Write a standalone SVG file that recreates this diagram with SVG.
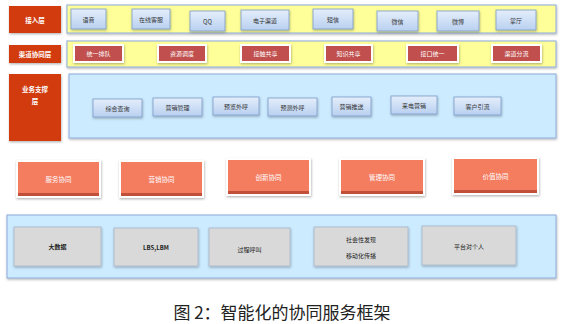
<svg xmlns="http://www.w3.org/2000/svg" width="567" height="324" viewBox="0 0 567 324">
<defs>
<linearGradient id="gBlue" x1="0" y1="0" x2="0" y2="1"><stop offset="0" stop-color="#E4EEFB"/><stop offset="1" stop-color="#B9D0F0"/></linearGradient>
<filter id="sh" x="-20%" y="-20%" width="140%" height="150%"><feDropShadow dx="0.5" dy="1.2" stdDeviation="1" flood-color="#000" flood-opacity="0.3"/></filter>
</defs>
<style>
text{font-family:"Noto Sans CJK SC","Liberation Sans",sans-serif;text-anchor:middle;dominant-baseline:central}
.lab{fill:#D13A0A}
.labt{fill:#fff;font-size:6.5px;font-weight:bold}
.yel{fill:#FFFF99;stroke:#8EAADB;stroke-width:1}
.pan{fill:#CCEBFF;stroke:#8EAADB;stroke-width:1}
.b1{fill:url(#gBlue);stroke:#7C9CC9;stroke-width:0.8}
.t1{fill:#333;font-size:6px}
.r2{fill:#C0504D;stroke:#fff;stroke-width:2}
.t2{fill:#fff;font-size:6px}
.o4{fill:#F47C5F;stroke:#fff;stroke-width:2}
.o4b{fill:#C0503A}
.t4{fill:#fff;font-size:6.5px}
.g5{fill:#D9D9D9;stroke:#A6B6C9;stroke-width:0.8}
.t5{fill:#222;font-size:6px}
</style>
<g id="row1">
<rect class="lab" x="9" y="6" width="52" height="27" filter="url(#sh)"/><text class="labt" x="35" y="19.5">接入层</text>
<rect class="yel" x="67" y="5" width="489" height="28" filter="url(#sh)"/>
<g id="n-yuyin"><rect class="b1" x="71" y="9" width="35" height="20" filter="url(#sh)"/><text class="t1" x="88.5" y="19">语音</text></g>
<g id="n-zaixian"><rect class="b1" x="132" y="9" width="38" height="20" filter="url(#sh)"/><text class="t1" x="151" y="19">在线客服</text></g>
<g id="n-qq"><rect class="b1" x="190" y="11" width="35" height="20" filter="url(#sh)"/><text class="t1" x="207.5" y="21">QQ</text></g>
<g id="n-dianzi"><rect class="b1" x="241" y="10" width="48" height="20" filter="url(#sh)"/><text class="t1" x="265" y="20">电子渠道</text></g>
<g id="n-duanxin"><rect class="b1" x="313" y="9" width="40" height="20" filter="url(#sh)"/><text class="t1" x="333" y="19">短信</text></g>
<g id="n-weixin"><rect class="b1" x="377" y="11" width="41" height="20" filter="url(#sh)"/><text class="t1" x="397.5" y="21">微信</text></g>
<g id="n-weibo"><rect class="b1" x="437" y="11" width="42" height="20" filter="url(#sh)"/><text class="t1" x="458" y="21">微博</text></g>
<g id="n-zhangting"><rect class="b1" x="496" y="10" width="40" height="20" filter="url(#sh)"/><text class="t1" x="516" y="20">掌厅</text></g>
</g>
<g id="row2">
<rect class="lab" x="9" y="45" width="52" height="18" filter="url(#sh)"/><text class="labt" x="35" y="54">渠道协同层</text>
<rect class="yel" x="67" y="41" width="489" height="26" filter="url(#sh)"/>
<g id="n-tongyi"><rect class="r2" x="74" y="45" width="49" height="17" filter="url(#sh)"/><text class="t2" x="98.5" y="53.5">统一排队</text></g>
<g id="n-ziyuan"><rect class="r2" x="158" y="45" width="48" height="17" filter="url(#sh)"/><text class="t2" x="182" y="53.5">资源调度</text></g>
<g id="n-jiechu"><rect class="r2" x="241" y="45" width="49" height="17" filter="url(#sh)"/><text class="t2" x="265.5" y="53.5">接触共享</text></g>
<g id="n-zhishi"><rect class="r2" x="325" y="45" width="47" height="17" filter="url(#sh)"/><text class="t2" x="348.5" y="53.5">知识共享</text></g>
<g id="n-jiekou"><rect class="r2" x="407" y="45" width="51" height="17" filter="url(#sh)"/><text class="t2" x="432.5" y="53.5">接口统一</text></g>
<g id="n-fenliu"><rect class="r2" x="492" y="45" width="49" height="17" filter="url(#sh)"/><text class="t2" x="516.5" y="53.5">渠道分流</text></g>
</g>
<g id="row3">
<rect class="lab" x="9" y="74" width="52" height="67" filter="url(#sh)"/><text class="labt" x="35" y="89">业务支撑</text><text class="labt" x="35" y="101">层</text>
<rect class="pan" x="69" y="74" width="487" height="64" filter="url(#sh)"/>
<g id="n-zonghe"><rect class="b1" x="93" y="99" width="49" height="18" filter="url(#sh)"/><text class="t1" x="117.5" y="108">综合查询</text></g>
<g id="n-yxgl"><rect class="b1" x="153" y="98" width="49" height="18" filter="url(#sh)"/><text class="t1" x="177.5" y="107">营销管理</text></g>
<g id="n-yulan"><rect class="b1" x="213" y="97" width="46" height="18" filter="url(#sh)"/><text class="t1" x="236" y="106">预览外呼</text></g>
<g id="n-yuce"><rect class="b1" x="268" y="98" width="49" height="18" filter="url(#sh)"/><text class="t1" x="292.5" y="107">预测外呼</text></g>
<g id="n-tuisong"><rect class="b1" x="332" y="97" width="39" height="19" filter="url(#sh)"/><text class="t1" x="351.5" y="106.5">营销推送</text></g>
<g id="n-laidian"><rect class="b1" x="391" y="96" width="46" height="18" filter="url(#sh)"/><text class="t1" x="414" y="105">来电营销</text></g>
<g id="n-yinliu"><rect class="b1" x="454" y="97" width="47" height="18" filter="url(#sh)"/><text class="t1" x="477.5" y="106">客户引流</text></g>
</g>
<g id="row4">
<g id="n-fuwu"><rect class="o4" x="17" y="161" width="83" height="36" filter="url(#sh)"/><rect class="o4b" x="18" y="193" width="81" height="3"/><text class="t4" x="58.5" y="179">服务协同</text></g>
<g id="n-yingxiao"><rect class="o4" x="120" y="161" width="83" height="36" filter="url(#sh)"/><rect class="o4b" x="121" y="193" width="81" height="3"/><text class="t4" x="161.5" y="179">营销协同</text></g>
<g id="n-chuangxin"><rect class="o4" x="227" y="159" width="83" height="36" filter="url(#sh)"/><rect class="o4b" x="228" y="191" width="81" height="3"/><text class="t4" x="268.5" y="177">创新协同</text></g>
<g id="n-guanli"><rect class="o4" x="340" y="159" width="84" height="36" filter="url(#sh)"/><rect class="o4b" x="341" y="191" width="82" height="3"/><text class="t4" x="382" y="177">管理协同</text></g>
<g id="n-jiazhi"><rect class="o4" x="453" y="158" width="85" height="36" filter="url(#sh)"/><rect class="o4b" x="454" y="190" width="83" height="3"/><text class="t4" x="495.5" y="176">价值协同</text></g>
</g>
<g id="row5">
<rect class="pan" x="7" y="215" width="549" height="63" filter="url(#sh)"/>
<g id="n-dashuju"><rect class="g5" x="14" y="227" width="87" height="39" filter="url(#sh)"/><text class="t5" x="57.5" y="246" font-weight="bold">大数据</text></g>
<g id="n-lbs"><rect class="g5" x="114" y="228" width="84" height="38" filter="url(#sh)"/><text class="t5" x="156" y="247" font-weight="bold" font-family="Liberation Sans">LBS,LBM</text></g>
<g id="n-guocheng"><rect class="g5" x="209" y="228" width="81" height="38" filter="url(#sh)"/><text class="t5" x="249.5" y="249">过程呼叫</text></g>
<g id="n-shehui"><rect class="g5" x="314" y="227" width="94" height="39" filter="url(#sh)"/><text class="t5" x="361" y="239">社会性发现</text><text class="t5" x="361" y="255">移动化传播</text></g>
<g id="n-pingtai"><rect class="g5" x="422" y="226" width="94" height="39" filter="url(#sh)"/><text class="t5" x="469" y="246">平台对个人</text></g>
</g>
<g id="connectors"/>
<text x="282" y="311" style="font-size:17px;fill:#222">图 2：智能化的协同服务框架</text>
</svg>
